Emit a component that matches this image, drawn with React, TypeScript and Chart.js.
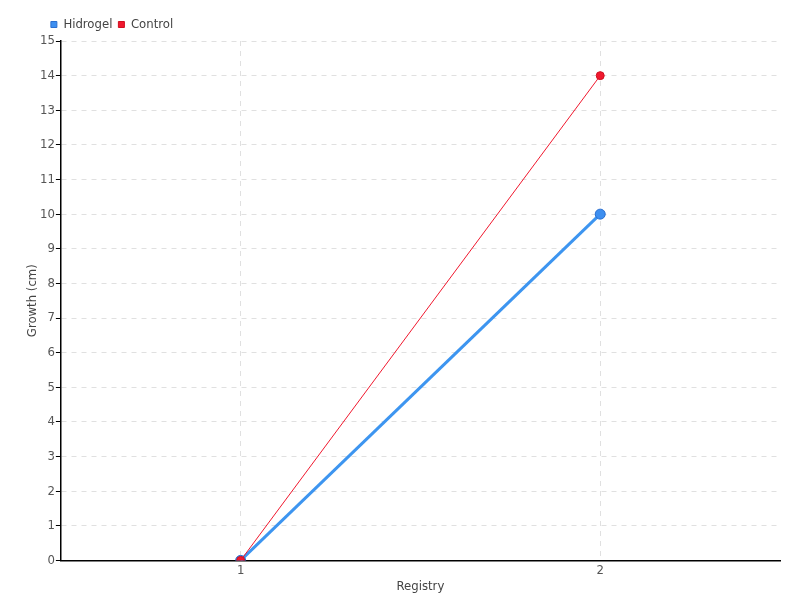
import React, { useEffect, useRef } from "react";
import { Chart, registerables } from "chart.js";

Chart.register(...registerables);

const categories = ["1", "2"];
const hidrogel = [0, 10];
const control = [0, 14];
const yTicks = [0, 15, 1];

const FONT = "'DejaVu Sans Condensed', 'Liberation Sans Narrow', sans-serif";

const legendShift = {
  id: "legendShift",
  afterLayout(chart: any) {
    if (chart.legend) {
      chart.legend.left = chart.chartArea.left - 16;
    }
  },
};

export default function App() {
  const ref = useRef<HTMLCanvasElement | null>(null);
  useEffect(() => {
    document.body.style.margin = "0";
    const ctx = ref.current!;
    const chart = new Chart(ctx, {
      type: "line",
      plugins: [legendShift],
      data: {
        labels: categories,
        datasets: [
          {
            label: "Hidrogel",
            data: hidrogel,
            borderColor: "#3d95f0",
            backgroundColor: "#3d95f0",
            pointBackgroundColor: "#3d8ff0",
            pointBorderColor: "#2a6fd0",
            borderWidth: 3,
            pointRadius: 5,
            pointBorderWidth: 1,
            tension: 0,
            order: 2,
          },
          {
            label: "Control",
            data: control,
            borderColor: "#f0182e",
            backgroundColor: "#f0182e",
            pointBackgroundColor: "#f0182e",
            pointBorderColor: "#d01020",
            borderWidth: 1,
            pointRadius: 4,
            pointBorderWidth: 1,
            tension: 0,
            order: 1,
          },
        ],
      },
      options: {
        animation: false,
        responsive: false,
        layout: { padding: { left: 26, right: 20, top: 12, bottom: 7 } },
        plugins: {
          legend: {
            position: "top",
            align: "start",
            labels: {
              usePointStyle: true,
              pointStyle: "rect",
              boxWidth: 6,
              boxHeight: 6,
              padding: 6,
              color: "#444",
              font: { family: FONT, size: 13 },
              sort: (a: any, b: any) => a.datasetIndex - b.datasetIndex,
            },
          },
          tooltip: { enabled: false },
        },
        scales: {
          x: {
            offset: true,
            grid: {
              offset: false,
              color: "#e0e0e0",
              drawTicks: false,
            },
            border: { color: "#000", width: 1.5, dash: [5, 5] },
            ticks: { color: "#555", font: { family: FONT, size: 13 }, padding: 2 },
            title: {
              display: true,
              text: "Registry",
              color: "#444",
              font: { family: FONT, size: 13, lineHeight: 1 },
              padding: 0,
            },
          },
          y: {
            min: yTicks[0],
            max: yTicks[1],
            grid: {
              color: "#e0e0e0",
              tickColor: "#000",
              tickLength: 5,
              tickBorderDash: [],
            },
            border: { color: "#000", width: 1.5, dash: [5, 5] },
            ticks: {
              stepSize: yTicks[2],
              color: "#555",
              font: { family: FONT, size: 13 },
              padding: 1,
            },
            title: {
              display: true,
              text: "Growth (cm)",
              color: "#444",
              font: { family: FONT, size: 13, lineHeight: 1 },
              padding: 0,
            },
          },
        },
      },
    });
    return () => chart.destroy();
  }, []);
  return <canvas ref={ref} width={800} height={600} style={{ display: "block" }} />;
}
